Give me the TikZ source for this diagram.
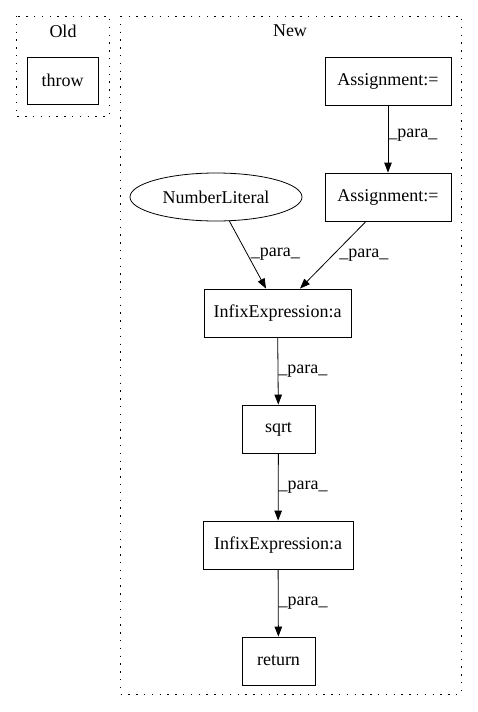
\documentclass[tikz,border=0pt]{standalone}
\usepackage{fontspec}
\setmainfont{Liberation Serif}
\usetikzlibrary{arrows.meta,calc,shapes.geometric}
\begin{document}
\begin{tikzpicture}[x=1pt,y=-1pt,
  box/.style={draw,line width=0.8pt,rectangle,inner sep=0pt,font=\fontsize{18}{21}\selectfont},
  oval/.style={draw,line width=0.8pt,ellipse,inner sep=0pt,font=\fontsize{18}{21}\selectfont},
  cluster/.style={draw,line width=1pt,dash pattern=on 1.4pt off 6.4pt},
  edge/.style={line width=0.8pt,-{Triangle[length=10pt,width=7.5pt]}},
  lbl/.style={font=\fontsize{18}{21}\selectfont,inner sep=0pt}]
\useasboundingbox (0,0) rectangle (477,712);
\draw[cluster] (16,16) rectangle (109,116);
\draw[cluster] (120,16) rectangle (461,694);
\node[lbl] (oldlbl) at (63,31) {Old};
\node[lbl] (newlbl) at (290,31) {New};
\node[box,minimum width=71pt,minimum height=47pt] (throw) at (62.5,80.5) {throw};
\node[box,minimum width=126pt,minimum height=48pt] (as1) at (388,81) {Assignment:=};
\node[box,minimum width=126pt,minimum height=48pt] (as2) at (388,197) {Assignment:=};
\node[oval,minimum width=172pt,minimum height=48pt] (nl) at (216,197) {NumberLiteral};
\node[box,minimum width=147pt,minimum height=48pt] (inf1) at (277.5,313) {InfixExpression:a};
\node[box,minimum width=73pt,minimum height=48pt] (sqrt) at (278.5,429) {sqrt};
\node[box,minimum width=150pt,minimum height=48pt] (inf2) at (278,545) {InfixExpression:a};
\node[box,minimum width=73pt,minimum height=48pt] (ret) at (278.5,661) {return};
\draw[edge] (as1) -- (as2) node[lbl,pos=0.45,right=0pt] {\_para\_};
\draw[edge] ($(nl.south)+(13,-1)$) -- ($(inf1.north)+(-11.5,0)$) node[lbl,pos=0.5,right=3pt] {\_para\_};
\draw[edge] ($(as2.south)+(-22,0)$) -- ($(inf1.north)+(22.5,0)$) node[lbl,pos=0.5,right=6pt] {\_para\_};
\draw[edge] (inf1) -- (sqrt) node[lbl,pos=0.5,right=0pt] {\_para\_};
\draw[edge] (sqrt) -- (inf2) node[lbl,pos=0.5,right=0pt] {\_para\_};
\draw[edge] (inf2) -- (ret) node[lbl,pos=0.5,right=0pt] {\_para\_};
\end{tikzpicture}
\end{document}
